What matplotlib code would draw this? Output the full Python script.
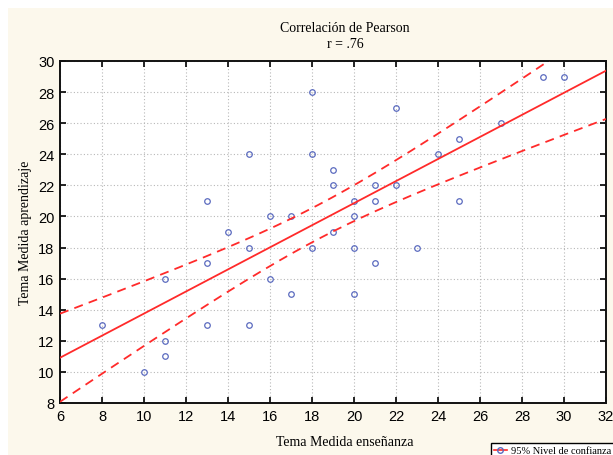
import matplotlib
matplotlib.use("Agg")
import matplotlib.pyplot as plt
import numpy as np
from matplotlib.lines import Line2D
from matplotlib.patches import Rectangle

# Data
ensenanza = [8, 10, 11, 11, 11, 13, 13, 13, 14, 15, 15, 15, 16, 16, 17, 17,
             18, 18, 18, 19, 19, 19, 20, 20, 20, 20, 21, 21, 21, 22, 22, 23,
             24, 25, 25, 27, 29, 30]
aprendizaje = [13, 10, 11, 12, 16, 21, 17, 13, 19, 24, 18, 13, 20, 16, 20, 15,
               28, 24, 18, 23, 22, 19, 21, 20, 18, 15, 22, 21, 17, 27, 22, 18,
               24, 25, 21, 26, 29, 29]
x_ticks = list(range(6, 33, 2))
y_ticks = list(range(8, 31, 2))

title = "Correlación de Pearson"
subtitle = "r = .76"
xlabel = "Tema Medida enseñanza"
ylabel = "Tema Medida aprendizaje"
legend_label = "95% Nivel de confianza"

serif = "Liberation Serif"
sans = "Liberation Sans"
cream = "#fcf8ec"
red = "#ff2a2a"
blue = "#5b6bbf"

x = np.array(ensenanza, dtype=float)
y = np.array(aprendizaje, dtype=float)
n = len(x)

# linear fit with 95% confidence band for the mean
slope, intercept = np.polyfit(x, y, 1)
resid = y - (slope * x + intercept)
s = np.sqrt(np.sum(resid ** 2) / (n - 2))
sxx = np.sum((x - x.mean()) ** 2)
t_crit = 2.028  # t(0.975, n-2)
xs = np.linspace(6, 32, 200)
fit = slope * xs + intercept
half = t_crit * s * np.sqrt(1.0 / n + (xs - x.mean()) ** 2 / sxx)

fig = plt.figure(figsize=(6.13, 4.56), dpi=100, facecolor="white")
fig.patches.append(Rectangle((8 / 613, 0), 1 - 8 / 613, 1 - 9 / 456,
                             transform=fig.transFigure, facecolor=cream,
                             edgecolor="none", zorder=-10))

ax = fig.add_axes([60 / 613, 1 - 404 / 456, 546 / 613, 342 / 456])
ax.set_facecolor("white")

ax.plot(x, y, "o", mfc="none", mec=blue, ms=4, mew=0.9, zorder=3)
ax.plot(xs, fit, color=red, lw=1.3, zorder=4)
ax.plot(xs, fit + half, color=red, lw=1.3, ls=(0, (5, 3.5)), zorder=4)
ax.plot(xs, fit - half, color=red, lw=1.3, ls=(0, (5, 3.5)), zorder=4)

ax.set_xlim(6, 32)
ax.set_ylim(8, 30)
ax.set_xticks(x_ticks)
ax.set_yticks(y_ticks)
ax.tick_params(direction="in", length=4, width=1.2, top=True, right=True,
               labelsize=10.5, pad=4)
for lbl in ax.get_xticklabels() + ax.get_yticklabels():
    lbl.set_fontfamily(sans)
ax.grid(True, color="#b8b8b8", ls=(0, (1, 2)), lw=0.8)
ax.set_axisbelow(True)
for sp in ax.spines.values():
    sp.set_linewidth(1.4)
    sp.set_color("#111111")

fig.text(345 / 613, 1 - 28 / 456, title, family=serif, fontsize=10,
         ha="center", va="center")
fig.text(345 / 613, 1 - 45 / 456, subtitle, family=serif, fontsize=10,
         ha="center", va="center")
fig.text(345 / 613, 1 - 443 / 456, xlabel, family=serif, fontsize=10,
         ha="center", va="center")
fig.text(26 / 613, 1 - 233 / 456, ylabel, family=serif, fontsize=10,
         ha="center", va="center", rotation=90)

handle = Line2D([], [], color=red, lw=1.2, marker="o", mfc="none", mec=blue,
                ms=4)
fig.legend([handle], [legend_label], loc="upper left",
           bbox_to_anchor=(491 / 613, 1 - 444 / 456),
           prop={"family": serif, "size": 7.5}, frameon=True, fancybox=False,
           edgecolor="black", facecolor="white", framealpha=1,
           handlelength=1.2, borderpad=0.3, handletextpad=0.4,
           borderaxespad=0)

fig.savefig("out.png", dpi=100, facecolor=fig.get_facecolor())
print(f"slope={slope:.3f} intercept={intercept:.3f} r={np.corrcoef(x, y)[0, 1]:.3f}")
